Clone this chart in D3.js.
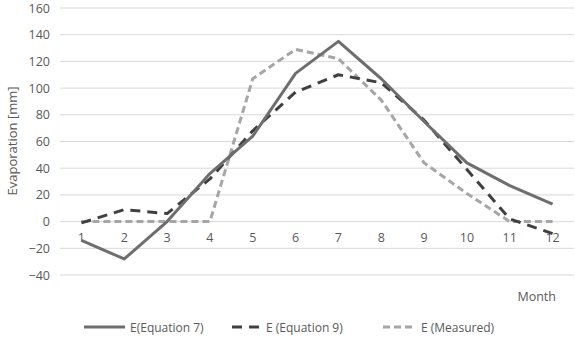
<!DOCTYPE html>
<html><head><meta charset="utf-8">
<script src="https://cdn.jsdelivr.net/npm/d3@7"></script>
<style>body{margin:0;background:#fff}svg{display:block}text{font-family:"Open Sans","Noto Sans",sans-serif;fill:#595959}</style>
</head><body><svg id="c" width="575" height="342"></svg>
<script>
const months = [1,2,3,4,5,6,7,8,9,10,11,12];
const eq7 = [-14,-28,0,36,64,111,135,107,75,44,27,13];
const eq9 = [-1,9,6,32,68,97,110,104,76,39,2,-9];
const measured = [0,0,0,0,107,129,122,91,44,21,0,0];
const yTicks = [-40,-20,0,20,40,60,80,100,120,140,160];
const seriesNames = ["E(Equation 7)","E (Equation 9)","E (Measured)"];

const svg = d3.select("#c");
const x = d3.scaleBand().domain(months).range([60,574]);
const y = d3.scaleLinear().domain([-40,160]).range([275,8]);

svg.append("g").selectAll("line").data(yTicks).join("line")
  .attr("x1",60).attr("x2",574)
  .attr("y1",d=>y(d)).attr("y2",d=>y(d))
  .attr("stroke","#d9d9d9").attr("stroke-width",1);

const ya = svg.append("g").attr("transform","translate(50,0)")
  .call(d3.axisLeft(y).tickValues(yTicks).tickSize(0).tickPadding(0));
ya.select(".domain").remove();
ya.selectAll("text").attr("font-size",12.5).style("font-family",'"Open Sans","Noto Sans",sans-serif').attr("fill","#595959");

const xa = svg.append("g").attr("transform",`translate(0,${y(0)})`)
  .call(d3.axisBottom(x).tickSize(0).tickPadding(12));
xa.select(".domain").remove();
xa.selectAll("text").attr("font-size",12.5).style("font-family",'"Open Sans","Noto Sans",sans-serif').attr("fill","#595959");

const styles = [
  {data:eq7, color:"#6e6e6e", dash:null},
  {data:eq9, color:"#404040", dash:"10,7"},
  {data:measured, color:"#a6a6a6", dash:"7,4"}
];
const line = d3.line().x((d,i)=>x(months[i])+x.bandwidth()/2).y(d=>y(d));
[2,1,0].forEach(k=>{
  const s = styles[k];
  svg.append("path").datum(s.data).attr("d",line)
    .attr("fill","none").attr("stroke",s.color).attr("stroke-width",3)
    .attr("stroke-linejoin","round")
    .attr("stroke-dasharray",s.dash);
});

svg.append("text").attr("transform","translate(17,141) rotate(-90)")
  .attr("text-anchor","middle").attr("font-size",13).text("Evaporation [mm]");
svg.append("text").attr("x",556).attr("y",301).attr("text-anchor","end")
  .attr("font-size",12.5).text("Month");

const legX = [[84,125,130],[232,260,266],[383,415,421]];
seriesNames.forEach((n,i)=>{
  const g = svg.append("g");
  g.append("line").attr("x1",legX[i][0]).attr("x2",legX[i][1])
    .attr("y1",327).attr("y2",327).attr("stroke",styles[i].color).attr("stroke-width",3)
    .attr("stroke-dasharray",styles[i].dash);
  g.append("text").attr("x",legX[i][2]).attr("y",331.5).attr("font-size",12).text(n);
});
</script></body></html>
